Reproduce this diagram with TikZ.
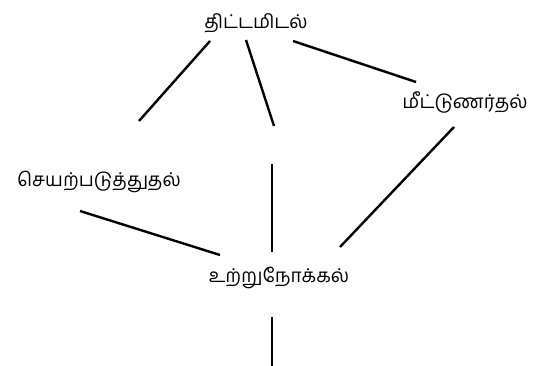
\documentclass[tikz,border=0pt]{standalone}
\usepackage{fontspec}
\newfontfamily\tamilfont[Script=Tamil]{Hind Madurai}
\begin{document}
\begin{tikzpicture}[x=1pt,y=-1pt,
  lbl/.style={font=\tamilfont\fontsize{19}{22}\selectfont, inner sep=0pt, text=black},
  conn/.style={line width=2.4pt, black}]
\path[fill=white] (0,0) rectangle (540,366);
\useasboundingbox (0,0) rectangle (540,366);
\node[lbl] (plan) at (256,23) {திட்டமிடல்};
\node[lbl] (recall) at (465,102) {மீட்டுணர்தல்};
\node[lbl] (impl) at (99,182) {செயற்படுத்துதல்};
\node[lbl] (obs) at (279,278) {உற்றுநோக்கல்};
\coordinate (f1) at (139,121);
\coordinate (f2) at (274,126);
\coordinate (f3) at (272,164);
\coordinate (f4) at (272,366);
\draw[conn] ([shift={(-46,18)}]plan.center) -- (f1);
\draw[conn] ([shift={(-10,17)}]plan.center) -- (f2);
\draw[conn] ([shift={(37,18)}]plan.center) -- ([shift={(-49,-20)}]recall.center);
\draw[conn] ([shift={(-11,25)}]recall.center) -- ([shift={(61,-31)}]obs.center);
\draw[conn] ([shift={(-19,29)}]impl.center) -- ([shift={(-59,-23)}]obs.center);
\draw[conn] (f3) -- ([shift={(-7,-26)}]obs.center);
\draw[conn] ([shift={(-7,39)}]obs.center) -- (f4);
\end{tikzpicture}
\end{document}
